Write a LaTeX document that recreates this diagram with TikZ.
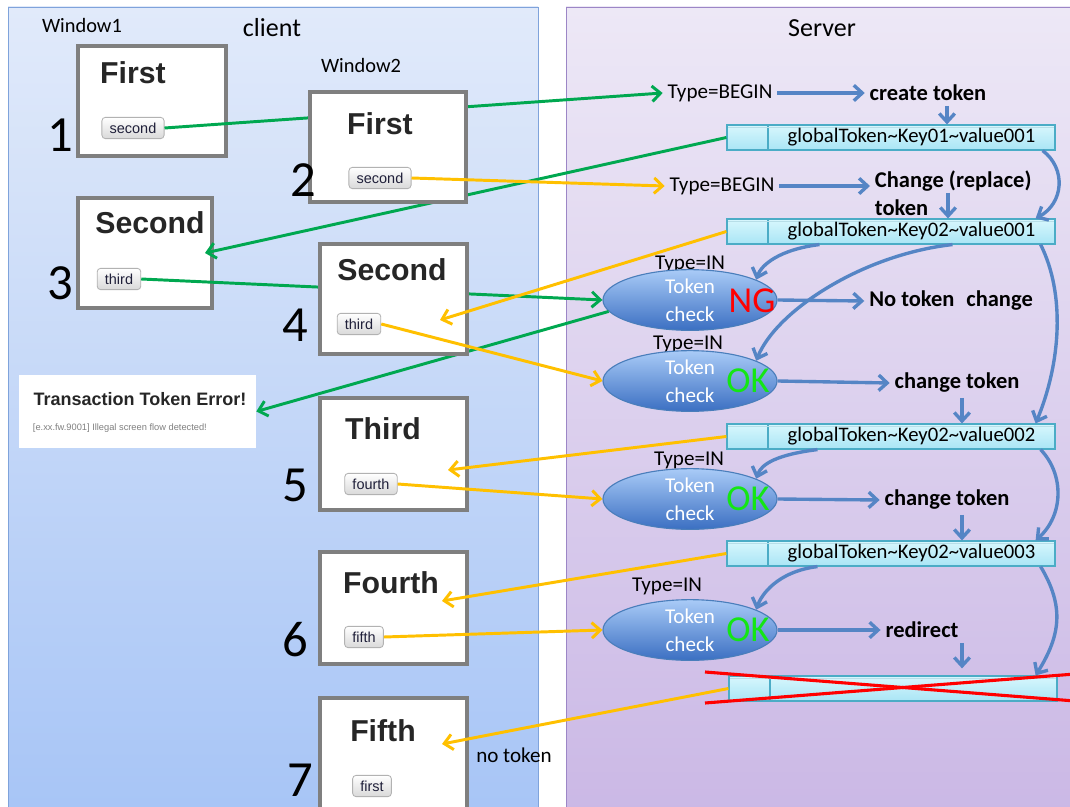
\documentclass[tikz,border=0pt]{standalone}
\usepackage{fontspec}
\setmainfont{Carlito}
\newfontfamily\winfont{Liberation Sans}
\usetikzlibrary{shapes.geometric,arrows.meta,shadows}
\definecolor{clienttop}{HTML}{E1EAFA}
\definecolor{clientbot}{HTML}{A6C4F6}
\definecolor{clientline}{HTML}{7FA3DB}
\definecolor{servertop}{HTML}{EDE8F6}
\definecolor{serverbot}{HTML}{CAB7E5}
\definecolor{serverline}{HTML}{9C86C6}
\definecolor{winline}{HTML}{7F7F7F}
\definecolor{bartop}{HTML}{D8F7FD}
\definecolor{barbot}{HTML}{A9E5F5}
\definecolor{barline}{HTML}{4BACC6}
\definecolor{elltop}{HTML}{A9CBF7}
\definecolor{ellbot}{HTML}{3B6FC2}
\definecolor{ellline}{HTML}{4A7EBB}
\definecolor{flowblue}{HTML}{5585C5}
\definecolor{okgreen}{HTML}{14E614}
\definecolor{linegreen}{HTML}{00A850}
\definecolor{lineyellow}{HTML}{FFC000}
\definecolor{ngred}{HTML}{FF0000}
\definecolor{btntext}{HTML}{20203A}

\begin{document}
\begin{tikzpicture}[x=0.025cm,y=-0.025cm,
    head/.style={font=\fontsize{14.5}{17}\selectfont},
    big/.style={font=\fontsize{18.5}{22}\selectfont},
    win/.style={draw=winline,line width=2.3pt,fill=white,minimum height=2.75cm,
        drop shadow={opacity=0.3,shadow xshift=1.2pt,shadow yshift=-1.2pt}},
    wtitle/.style={font=\winfont\bfseries\fontsize{21.5}{24}\selectfont,text=black!85},
    btn/.style={draw=gray!60,line width=0.6pt,rounded corners=2.5pt,top color=white,bottom color=gray!30,
        inner xsep=5.5pt,inner ysep=3.8pt,font=\winfont\fontsize{10.3}{11}\selectfont,text=btntext},
    num/.style={font=\fontsize{36}{40}\selectfont},
    lbl/.style={font=\fontsize{15}{18}\selectfont},
    act/.style={font=\bfseries\fontsize{16}{20}\selectfont},
    bar/.style={draw=barline,line width=0.8pt,top color=bartop,bottom color=barbot,
        minimum width=8.2cm,minimum height=0.625cm,inner sep=0pt,font=\fontsize{14.7}{17}\selectfont,
        path picture={
            \draw[barline,line width=0.8pt] ([xshift=1.025cm]path picture bounding box.north west)
                -- ([xshift=1.025cm]path picture bounding box.south west);
            \draw[white!60!barline,line width=0.5pt] ([yshift=-1.8pt]path picture bounding box.north west)
                -- ([yshift=-1.8pt]path picture bounding box.north east);}},
    chk/.style={ellipse,draw=ellline,line width=0.8pt,top color=elltop,bottom color=ellbot,
        minimum width=4.35cm,minimum height=1.4cm,inner sep=0pt,text=white,align=center,
        font=\fontsize{15}{20}\selectfont},
    res/.style={font=\fontsize{26}{28}\selectfont,text=okgreen},
    flow/.style={draw=flowblue,line width=2.4pt,-{Straight Barb[length=6pt,width=11pt]}},
    gline/.style={draw=linegreen,line width=2.1pt,-{Straight Barb[length=6pt,width=11pt]}},
    yline/.style={draw=lineyellow,line width=2.1pt,-{Straight Barb[length=6pt,width=11pt]}},
    cross/.style={draw=ngred,line width=2.2pt}]
\useasboundingbox (0,0) rectangle (1070,807);
\path[draw=clientline,top color=clienttop,bottom color=clientbot] (8,7) rectangle (538,830);
\path[draw=serverline,top color=servertop,bottom color=serverbot] (566,7) rectangle (1090,830);
\node[head] (win1) at (82,25) {Window1};
\node[big] (client) at (272,28) {client};
\node[head] (win2) at (361,65) {Window2};
\node[big] (server) at (822,28) {Server};

\node[win,minimum width=3.7cm] (w1) at (152,101) {};
\node[wtitle] (t1) at (133,73) {First};
\node[btn] (b1) at (133,128) {second};
\node[num] (n1) at (60,135) {1};
\node[win,minimum width=3.35cm] (w3) at (145,253) {};
\node[wtitle] (t3) at (150,223) {Second};
\node[btn] (b3) at (119,279) {third};
\node[num] (n3) at (60,283) {3};
\node[fill=white,minimum width=5.925cm,minimum height=1.825cm] (err) at (137.5,411.5) {};
\node[font=\winfont\bfseries\fontsize{12.8}{15}\selectfont,text=black!85] (errt) at (140,399) {Transaction Token Error!};
\node[font=\winfont\fontsize{6.6}{8}\selectfont,text=gray,anchor=west] (errm) at (28,428) {[e.xx.fw.9001] Illegal screen flow detected!};

\node[lbl] (tb1) at (720,93) {Type=BEGIN};
\node[act] (ct) at (928,93) {create token};
\node[bar] (bar1) at (891,137.5) {\hspace*{1.025cm}globalToken\textasciitilde Key01\textasciitilde value001};
\node[lbl] (tb2) at (722,186) {Type=BEGIN};
\node[act,align=left,anchor=west] (chg) at (870,193) {Change (replace)\\token};
\node[bar] (bar2) at (891,231.5) {\hspace*{1.025cm}globalToken\textasciitilde Key02\textasciitilde value001};
\node[lbl] (in1) at (690,264) {Type=IN};
\node[chk] (e1) at (690,300) {Token\\check};
\node[res,text=ngred] (ng) at (752,301) {NG};
\node[act] (nochg) at (951,301) {No token\hspace{0.3em} change};
\node[lbl] (in2) at (688,344) {Type=IN};
\node[chk] (e2) at (690,381) {Token\\check};
\node[res] (ok2) at (748,381) {OK};
\node[act] (cht1) at (957,383) {change token};
\node[bar] (bar3) at (891,436.5) {\hspace*{1.025cm}globalToken\textasciitilde Key02\textasciitilde value002};
\node[lbl] (in3) at (689,460) {Type=IN};
\node[chk] (e3) at (690,499) {Token\\check};
\node[res] (ok3) at (748,499) {OK};
\node[act] (cht2) at (947,500) {change token};
\node[bar] (bar4) at (891,553.5) {\hspace*{1.025cm}globalToken\textasciitilde Key02\textasciitilde value003};
\node[lbl] (in4) at (667,586) {Type=IN};
\node[chk] (e4) at (690,630) {Token\\check};
\node[res] (ok4) at (748,630) {OK};
\node[act] (redir) at (922,630) {redirect};
\node[bar] (bar5) at (893,688.5) {};
\node[lbl] (notok) at (514,755) {no token};

\coordinate (w3in) at (205,253);
\coordinate (w4in) at (440,320);
\coordinate (w5in) at (448,470);
\coordinate (w6in) at (442,601);
\coordinate (w7in) at (442,744);

\draw[gline] (b1.east) -- (tb1.west);
\draw[gline] (bar1.west) -- (w3in);
\draw[gline] (b3.east) -- (e1.west);
\draw[gline] (e1.188) -- (err.east);

\node[win,minimum width=3.9cm] (w2) at (388,147) {};
\node[wtitle] (t2) at (380,124) {First};
\node[btn] (b2) at (380,178) {second};
\node[num] (n2) at (303,180) {2};
\node[win,minimum width=3.675cm] (w4) at (393.5,299) {};
\node[wtitle] (t4) at (392,270) {Second};
\node[btn] (b4) at (359,324) {third};
\node[num] (n4) at (295,325) {4};
\node[win,minimum width=3.675cm,minimum height=2.8cm] (w5) at (393.5,454) {};
\node[wtitle] (t5) at (383,429) {Third};
\node[btn] (b5) at (371,484) {fourth};
\node[num] (n5) at (295,485) {5};
\node[win,minimum width=3.675cm,minimum height=2.8cm] (w6) at (393.5,608) {};
\node[wtitle] (t6) at (391,583) {Fourth};
\node[btn] (b6) at (364,637) {fifth};
\node[num] (n6) at (295,640) {6};
\node[win,minimum width=3.675cm,minimum height=2.8cm] (w7) at (393.5,754) {};
\node[wtitle] (t7) at (383,731) {Fifth};
\node[btn] (b7) at (372,786) {first};
\node[num] (n7) at (300,780) {7};

\draw[yline] (b2.east) -- (tb2.west);
\draw[yline] (bar2.west) -- (w4in);
\draw[yline] (b4.east) -- (e2.west);
\draw[yline] (bar3.west) -- (w5in);
\draw[yline] (b5.east) -- (e3.west);
\draw[yline] (bar4.west) -- (w6in);
\draw[yline] (b6.east) -- (e4.west);
\draw[yline] (bar5.west) -- (w7in);

\draw[flow] (tb1.east) -- (ct.west);
\draw[flow] ([xshift=0.475cm]ct.south) -- ([xshift=0.475cm]ct.south |- bar1.north);
\draw[flow] (tb2.east) -- (tb2.east -| chg.west);
\draw[flow] ([xshift=1.95cm]chg.west) -- ([xshift=1.95cm]chg.west |- bar2.north);
\draw[flow] (e1.east) -- (nochg.west);
\draw[flow] (e2.east) -- (cht1.west);
\draw[flow] ([xshift=0.125cm]cht1.south) -- ([xshift=0.125cm]cht1.south |- bar3.north);
\draw[flow] (e3.east) -- (cht2.west);
\draw[flow] ([xshift=0.375cm]cht2.south) -- ([xshift=0.375cm]cht2.south |- bar4.north);
\draw[flow] (e4.east) -- (redir.west);
\draw[flow,shorten >=5pt] ([xshift=1cm]redir.south) -- ([xshift=1cm]redir.south |- bar5.north);

\draw[flow] ([xshift=-0.325cm]bar1.south east) .. controls +(24,18) and +(28,-15) .. ([xshift=-0.5cm]bar2.north east);
\draw[flow] ([xshift=-0.375cm]bar2.south east) .. controls +(25,50) and +(25,-60) .. ([xshift=-0.5cm]bar3.north east);
\draw[flow] ([xshift=-0.375cm]bar3.south east) .. controls +(24,25) and +(28,-25) .. ([xshift=-0.5cm]bar4.north east);
\draw[flow] ([xshift=-0.375cm]bar4.south east) .. controls +(24,40) and +(25,-40) .. ([xshift=-0.55cm]bar5.north east);
\draw[flow] ([xshift=2.325cm]bar2.south west) .. controls +(-40,5) and +(5,-15) .. (e1.17);
\draw[flow] ([xshift=5.65cm]bar2.south west) .. controls +(-90,10) and +(20,-50) .. (e2.17);
\draw[flow] ([xshift=2.275cm]bar3.south west) .. controls +(-40,5) and +(5,-15) .. (e3.17);
\draw[flow] ([xshift=2.275cm]bar4.south west) .. controls +(-40,5) and +(5,-15) .. (e4.17);

\draw[cross] (705,672) -- (1075,701);
\draw[cross] (705,703) -- (1075,674);
\end{tikzpicture}
\end{document}
